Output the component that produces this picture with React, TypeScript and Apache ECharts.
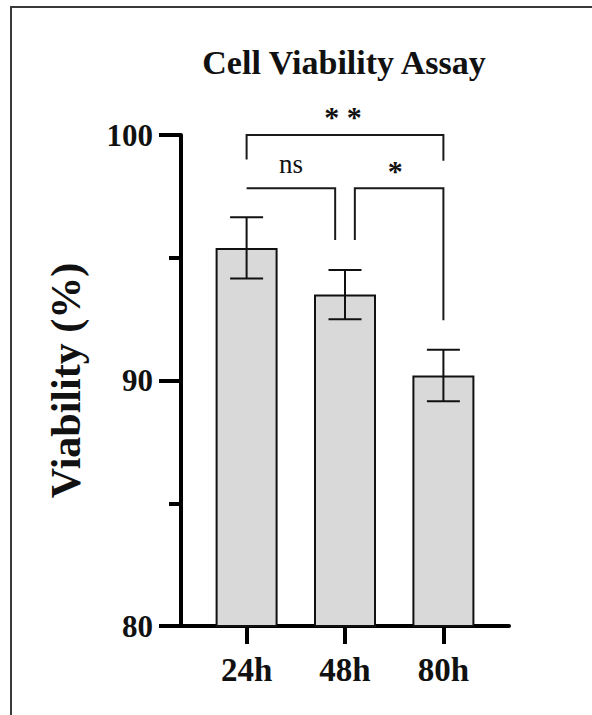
import React, { useEffect, useRef } from "react";
import * as echarts from "echarts";

const categories = ["24h", "48h", "80h"];
const positions = [1, 2, 3];
const means = [95.4, 93.5, 90.2];
const errors = [1.25, 1.0, 1.05];
const yTicks = [80, 90, 100];

// significance brackets, in data coordinates [x, y]
const bracketLines: number[][][] = [
  [[1, 99.0], [1, 100], [3, 100], [3, 98.95]],
  [[1, 97.83], [1.9, 97.83], [1.9, 95.72]],
  [[2.1, 95.72], [2.1, 97.83], [3, 97.83], [3, 92.45]],
];
const sigTexts = ["* *", "ns", "*"];
const sigX = [1.98, 1.45, 2.51];
const sigY = [100.75, 98.82, 98.55];
const sigBold = [true, false, true];

const FONT = "'Liberation Serif', 'Times New Roman', Times, serif";

export default function App() {
  const ref = useRef<HTMLDivElement>(null);
  useEffect(() => {
    if (!ref.current) return;
    const chart = echarts.init(ref.current, null, { renderer: "svg" });
    const option: any = {
      animation: false,
      backgroundColor: "#fff",
      grid: { left: 181, top: 135, width: 328, height: 491 },
      graphic: [
        {
          type: "rect",
          shape: { x: 11, y: 7, width: 700, height: 800 },
          style: { fill: "none", stroke: "#3a3a3a", lineWidth: 2 },
          silent: true,
        },
        {
          type: "text",
          x: 344,
          y: 62,
          style: {
            text: "Cell Viability Assay",
            font: `bold 34px ${FONT}`,
            fill: "#111",
            textAlign: "center",
            textVerticalAlign: "middle",
          },
        },
      ],
      xAxis: {
        type: "value",
        min: 1 - 2 / 3,
        max: 3 + 2 / 3,
        splitLine: { show: false },
        axisLine: { show: true, lineStyle: { color: "#000", width: 4 } },
        axisTick: {
          show: true,
          customValues: positions,
          length: 18,
          lineStyle: { color: "#000", width: 4 },
        },
        axisLabel: {
          customValues: positions,
          formatter: (v: number) => categories[Math.round(v) - 1] ?? "",
          margin: 27,
          color: "#111",
          fontFamily: FONT,
          fontWeight: "bold",
          fontSize: 33,
        },
      },
      yAxis: {
        type: "value",
        min: 80,
        max: 100,
        interval: 10,
        name: "Viability (%)",
        nameLocation: "middle",
        nameGap: 94,
        nameTextStyle: {
          fontFamily: FONT,
          fontWeight: "bold",
          fontSize: 42,
          color: "#111",
        },
        splitLine: { show: false },
        axisLine: { show: true, lineStyle: { color: "#000", width: 4 } },
        axisTick: { show: true, length: 22, lineStyle: { color: "#000", width: 4 } },
        minorTick: { show: true, splitNumber: 2, length: 12, lineStyle: { color: "#000", width: 4 } },
        axisLabel: {
          margin: 28,
          color: "#111",
          fontFamily: FONT,
          fontWeight: "bold",
          fontSize: 31,
          formatter: (v: number) => (yTicks.includes(v) ? String(v) : ""),
        },
      },
      series: [
        {
          type: "bar",
          data: positions.map((p, i) => [p, means[i]]),
          barWidth: 62,
          itemStyle: { color: "#d9d9d9", borderColor: "#111", borderWidth: 2 },
          z: 2,
        },
        {
          type: "custom",
          z: 3,
          data: positions.map((p, i) => [p, means[i] - errors[i], means[i] + errors[i]]),
          encode: { x: 0, y: [1, 2] },
          renderItem: (params: any, api: any) => {
            const x = api.value(0);
            const lo = api.coord([x, api.value(1)]);
            const hi = api.coord([x, api.value(2)]);
            const hw = 16.5;
            const style = { stroke: "#111", lineWidth: 2 };
            return {
              type: "group",
              children: [
                { type: "line", shape: { x1: hi[0], y1: hi[1], x2: lo[0], y2: lo[1] }, style },
                { type: "line", shape: { x1: hi[0] - hw, y1: hi[1], x2: hi[0] + hw, y2: hi[1] }, style },
                { type: "line", shape: { x1: lo[0] - hw, y1: lo[1], x2: lo[0] + hw, y2: lo[1] }, style },
              ],
            };
          },
        },
        {
          type: "custom",
          z: 3,
          data: bracketLines.map((pts) => pts[0]),
          renderItem: (params: any, api: any) => {
            const pts = bracketLines[params.dataIndex].map((p) => api.coord(p));
            return {
              type: "polyline",
              shape: { points: pts },
              style: { stroke: "#1a1a1a", lineWidth: 2, fill: "none" },
            };
          },
        },
        {
          type: "custom",
          z: 4,
          data: sigTexts.map((_, i) => [sigX[i], sigY[i]]),
          renderItem: (params: any, api: any) => {
            const i = params.dataIndex;
            const c = api.coord([api.value(0), api.value(1)]);
            return {
              type: "text",
              x: c[0],
              y: c[1],
              style: {
                text: sigTexts[i],
                font: `${sigBold[i] ? "bold " : ""}${sigBold[i] ? 30 : 27}px ${FONT}`,
                fill: "#111",
                textAlign: "center",
                textVerticalAlign: "middle",
              },
            };
          },
        },
      ],
    };
    chart.setOption(option);
    return () => chart.dispose();
  }, []);
  return (
    <div
      ref={ref}
      style={{ position: "absolute", left: 0, top: 0, width: 592, height: 715, background: "#fff" }}
    />
  );
}
